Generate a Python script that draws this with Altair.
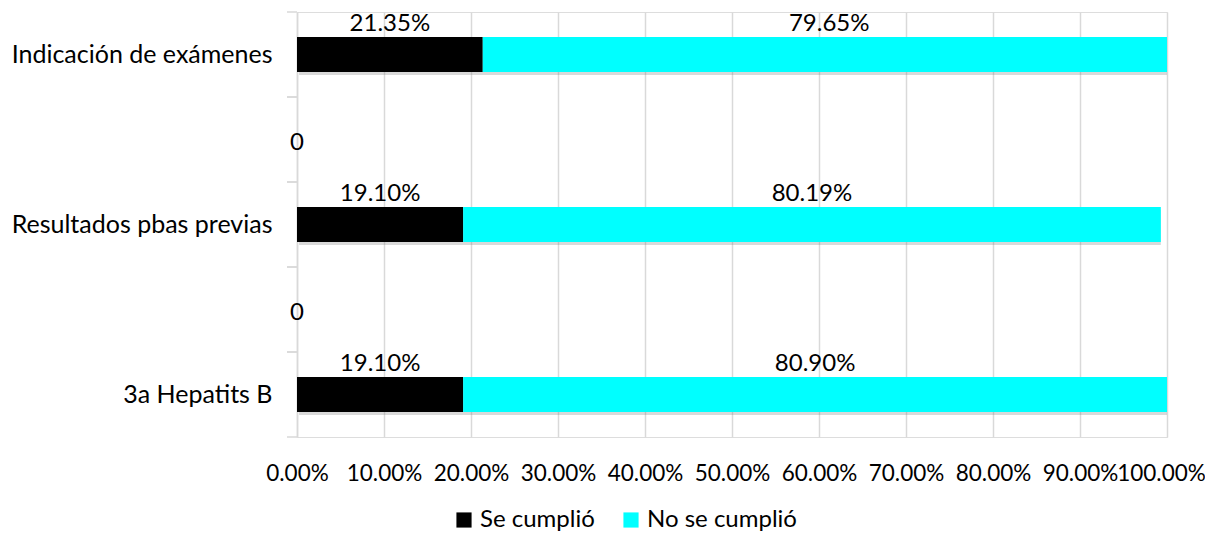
import altair as alt
import pandas as pd

categories = ["Indicación de exámenes", "blank1", "Resultados pbas previas", "blank2", "3a Hepatits B"]
series = ["Se cumplió", "No se cumplió"]
se_cumplio = [0.2135, 0.0, 0.1910, 0.0, 0.1910]
no_se_cumplio = [0.7965, 0.0, 0.8019, 0.0, 0.8090]
zero_labels = ["", "0", "", "0", ""]
x_ticks = [0.0, 0.1, 0.2, 0.3, 0.4, 0.5, 0.6, 0.7, 0.8, 0.9, 1.0]
colors = ["#000000", "#00FFFF"]

FONT = "Lato"
FS = 24

rows = []
for i, c in enumerate(categories):
    for k, (s, vals) in enumerate(zip(series, [se_cumplio, no_se_cumplio])):
        rows.append({"cat": c, "series": s, "order": k, "value": vals[i]})
df = pd.DataFrame(rows)
zdf = pd.DataFrame({"cat": categories, "zl": zero_labels, "v": [0.0] * len(categories)})
zdf = zdf[zdf["zl"] != ""]

yscale = alt.Scale(domain=categories, paddingInner=0, paddingOuter=0)
xscale = alt.Scale(domain=[0, 1], nice=False)

stacked = alt.Chart(df).transform_stack(
    stack="value", groupby=["cat"], as_=["start", "end"],
    sort=[alt.SortField("order", order="ascending")]
).transform_calculate(mid="(datum.start + datum.end) / 2")

y_main = alt.Y(
    "cat:N", scale=yscale, title=None,
    axis=alt.Axis(
        ticks=False, domain=True, domainColor="#d9d9d9", domainWidth=1.5,
        labelExpr="indexof(datum.label, 'blank') == 0 ? '' : datum.label",
        labelFont=FONT, labelFontSize=25, labelColor="#000000", labelPadding=25,
        labelLimit=400,
    ),
)

x_main = alt.X(
    "start:Q", scale=xscale, title=None,
    axis=alt.Axis(
        values=x_ticks, format=".2%", grid=True, gridColor="#d9d9d9", gridWidth=1.5,
        domain=False, ticks=False, labelFont=FONT, labelFontSize=22.5,
        labelColor="#000000", labelPadding=25, labelOverlap=False, labelFlush=False,
        labelOffset={"condition": {"test": "datum.value == 1", "value": -6}, "value": 0},
    ),
)

shadow = alt.Chart(df).transform_aggregate(
    total="sum(value)", groupby=["cat"]
).transform_filter("datum.total > 0").transform_calculate(zero="0").mark_bar(
    height=35, color="#808080", opacity=0.3, xOffset=2, yOffset=3, clip=True
).encode(
    y=alt.Y("cat:N", scale=yscale),
    x=alt.X("zero:Q", scale=xscale),
    x2="total:Q",
)

bars = stacked.mark_bar(height=35, clip=True).encode(
    y=y_main,
    x=x_main,
    x2="end:Q",
    color=alt.Color(
        "series:N",
        scale=alt.Scale(domain=series, range=colors),
        legend=alt.Legend(
            title=None, orient="none", direction="horizontal",
            legendX=155, legendY=496, symbolType="square", symbolSize=230,
            symbolStrokeWidth=0, labelFont=FONT, labelFontSize=FS,
            labelColor="#000000", columnPadding=24, labelOffset=4,
        ),
    ),
    order=alt.Order("order:Q"),
)

labels = stacked.transform_filter("datum.value > 0").mark_text(
    font=FONT, fontSize=FS, color="#000000", baseline="middle", align="center", dy=-31
).encode(
    y=alt.Y("cat:N", scale=yscale),
    x=alt.X("mid:Q", scale=xscale),
    text=alt.Text("value:Q", format=".2%"),
)

zeros = alt.Chart(zdf).mark_text(
    font=FONT, fontSize=FS, color="#000000", baseline="middle", align="center", dy=3
).encode(
    y=alt.Y("cat:N", scale=yscale),
    x=alt.X("v:Q", scale=xscale),
    text="zl:N",
)

tick_top = alt.Chart(pd.DataFrame({"cat": categories})).mark_rule(
    color="#d9d9d9", strokeWidth=1.5
).encode(
    y=alt.Y("cat:N", scale=yscale, bandPosition=0),
    x=alt.value(-10), x2=alt.value(0),
)
tick_bot = alt.Chart(pd.DataFrame({"cat": categories})).mark_rule(
    color="#d9d9d9", strokeWidth=1.5
).encode(
    y=alt.Y("cat:N", scale=yscale, bandPosition=1),
    x=alt.value(-10), x2=alt.value(0),
)

chart = alt.layer(shadow, bars, labels, zeros, tick_top, tick_bot).properties(
    width=870, height=425,
    autosize=alt.AutoSizeParams(type="none"),
    padding={"left": 289, "top": 4, "right": 38, "bottom": 98},
).configure_view(stroke=None).configure(background="#ffffff")

chart.save("out.html", embed_options={"renderer": "svg", "actions": False})
